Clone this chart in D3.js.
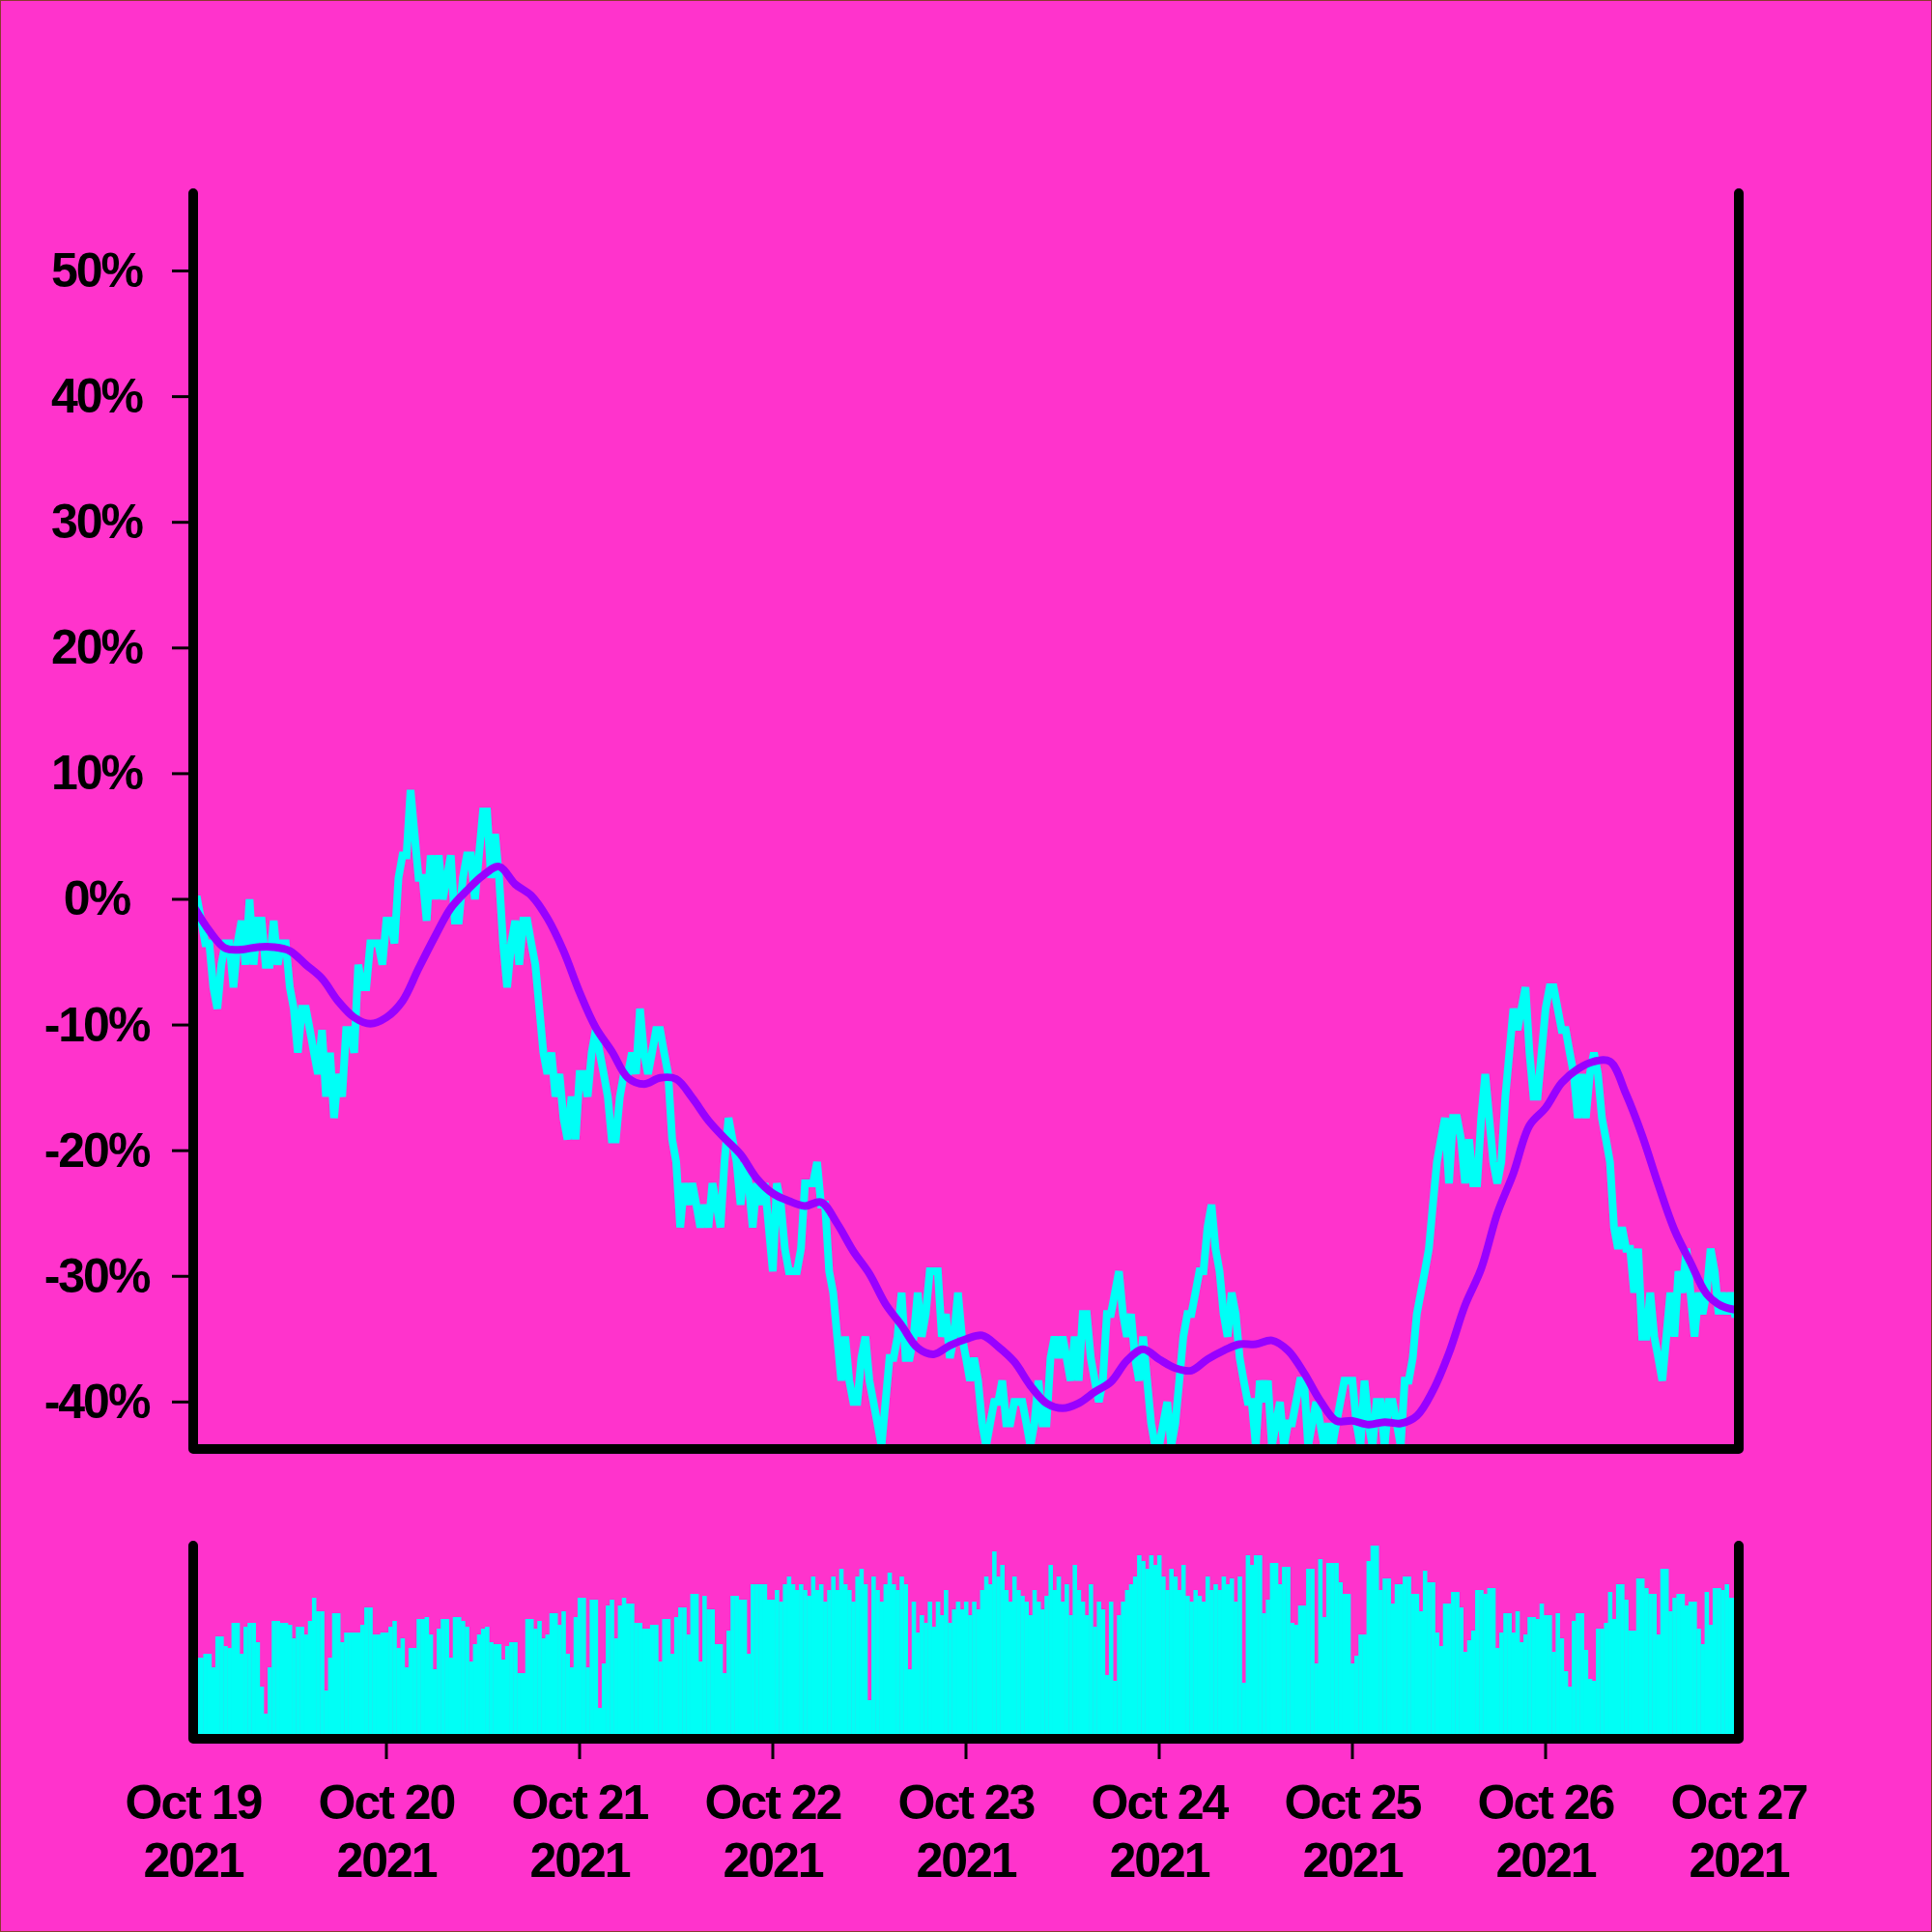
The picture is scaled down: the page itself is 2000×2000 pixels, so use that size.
<!DOCTYPE html>
<html><head><meta charset="utf-8">
<script src="https://cdn.jsdelivr.net/npm/d3@7"></script>
<style>html,body{margin:0;padding:0;background:#ff33cc;} svg{display:block;}</style>
</head><body>
<svg id="chart" width="2000" height="2000"></svg>
<script>
// ---------- DATA ----------
const startTime = "2021-10-19T00:00:00Z";
const endTime = "2021-10-27T00:00:00Z";
const pointStepMinutes = 30;     // one point every 30 minutes
const maStepPoints = 4;          // moving average read every 4 points (2 h)
const dateTicks = ["2021-10-19","2021-10-20","2021-10-21","2021-10-22","2021-10-23","2021-10-24","2021-10-25","2021-10-26","2021-10-27"];
const dateLabelsTop = ["Oct 19","Oct 20","Oct 21","Oct 22","Oct 23","Oct 24","Oct 25","Oct 26","Oct 27"];
const dateLabelsBottom = ["2021","2021","2021","2021","2021","2021","2021","2021","2021"];
const yTicks = [-40,-30,-20,-10,0,10,20,30,40,50];
const yTickLabels = ["-40%","-30%","-20%","-10%","0%","10%","20%","30%","40%","50%"];

// price change, % (30-minute points)
const priceChange = [
0,0,-1.7,-3.5,-3.5,-7.0,-8.7,-5.2,-3.5,-3.5,
-7.0,-3.5,-1.7,-5.2,0,-5.2,-1.7,-1.7,-5.2,-5.2,
-1.7,-5.2,-3.5,-3.5,-7.0,-8.7,-12.2,-8.7,-8.7,-10.4,
-12.2,-13.9,-10.4,-15.7,-12.2,-17.4,-13.9,-15.7,-10.4,-10.4,
-12.2,-5.2,-7.0,-7.0,-3.5,-3.5,-3.5,-5.2,-1.7,-1.7,
-3.5,1.7,3.5,3.5,8.7,5.2,1.7,1.7,-1.7,3.5,
0,3.5,0,1.7,3.5,-1.7,-1.7,1.7,3.5,3.5,
0,3.5,7.0,7.0,1.7,5.2,1.7,-3.5,-7.0,-3.5,
-1.7,-5.2,-1.7,-1.7,-3.5,-5.2,-8.7,-12.2,-13.9,-12.2,
-15.7,-13.9,-17.4,-19.1,-15.7,-19.1,-13.9,-13.9,-15.7,-12.2,
-10.4,-12.2,-13.9,-15.7,-19.1,-19.1,-15.7,-13.9,-13.9,-12.2,
-13.9,-8.7,-12.2,-13.9,-12.2,-10.4,-10.4,-12.2,-13.9,-19.1,
-20.9,-26.1,-22.6,-24.3,-22.6,-24.3,-26.1,-24.3,-26.1,-22.6,
-24.3,-26.1,-20.9,-17.4,-19.1,-20.9,-24.3,-20.9,-22.6,-26.1,
-22.6,-24.3,-22.6,-26.1,-29.6,-22.6,-24.3,-27.8,-29.6,-29.6,
-29.6,-27.8,-22.6,-22.6,-22.6,-20.9,-24.3,-24.3,-29.6,-31.3,
-34.8,-38.3,-34.8,-38.3,-40.0,-40.0,-36.5,-34.8,-38.3,-40.0,
-41.7,-43.5,-40.0,-36.5,-36.5,-34.8,-31.3,-36.5,-36.5,-34.8,
-31.3,-34.8,-33.0,-29.6,-29.6,-29.6,-34.8,-33.0,-36.5,-34.8,
-31.3,-34.8,-36.5,-38.3,-36.5,-38.3,-41.7,-43.5,-41.7,-40.0,
-40.0,-38.3,-41.7,-41.7,-40.0,-40.0,-40.0,-41.7,-43.5,-41.7,
-38.3,-41.7,-41.7,-36.5,-34.8,-36.5,-34.8,-36.5,-38.3,-34.8,
-38.3,-33.0,-33.0,-36.5,-38.3,-40.0,-38.3,-33.0,-33.0,-31.3,
-29.6,-33.0,-34.8,-33.0,-36.5,-38.3,-34.8,-38.3,-41.7,-43.5,
-43.5,-41.7,-40.0,-43.5,-41.7,-38.3,-34.8,-33.0,-33.0,-31.3,
-29.6,-29.6,-26.1,-24.3,-27.8,-29.6,-33.0,-34.8,-31.3,-33.0,
-36.5,-38.3,-40.0,-40.0,-43.5,-38.3,-40.0,-38.3,-43.5,-41.7,
-40.0,-43.5,-41.7,-41.7,-40.0,-38.3,-38.3,-43.5,-41.7,-40.0,
-41.7,-43.5,-41.7,-43.5,-41.7,-40.0,-38.3,-38.3,-38.3,-41.7,
-43.5,-38.3,-41.7,-43.5,-40.0,-40.0,-43.5,-40.0,-40.0,-41.7,
-43.5,-38.3,-38.3,-36.5,-33.0,-31.3,-29.6,-27.8,-24.3,-20.9,
-19.1,-17.4,-22.6,-17.4,-17.4,-19.1,-22.6,-19.1,-22.6,-22.6,
-17.4,-13.9,-17.4,-20.9,-22.6,-20.9,-15.7,-12.2,-8.7,-10.4,
-8.7,-7.0,-12.2,-15.7,-15.7,-12.2,-8.7,-7.0,-7.0,-8.7,
-10.4,-10.4,-12.2,-13.9,-17.4,-13.9,-17.4,-13.9,-12.2,-13.9,
-17.4,-19.1,-20.9,-26.1,-27.8,-26.1,-27.8,-27.8,-31.3,-27.8,
-34.8,-34.8,-31.3,-34.8,-36.5,-38.3,-34.8,-31.3,-34.8,-29.6,
-31.3,-27.8,-31.3,-34.8,-31.3,-33.0,-31.3,-27.8,-29.6,-33.0,
-31.3,-33.0,-31.3,-33.0,-33.0
];

// volume (relative units, 30-minute bars)
const volume = [
42,42,42,44,44,37,53,53,48,47,
60,60,44,58,60,60,50,27,13,37,
61,61,60,60,59,52,58,58,54,61,
73,66,66,25,42,65,65,50,55,55,
55,55,59,68,68,54,54,55,55,58,
61,47,52,37,47,47,62,62,63,54,
36,57,62,62,42,63,63,61,58,40,
49,54,57,58,50,49,49,41,48,50,
50,34,34,62,62,57,61,52,54,65,
65,59,66,44,37,63,73,73,37,72,
72,16,39,69,72,52,69,73,70,70,
60,60,57,57,59,59,40,62,62,44,
63,68,68,54,75,75,40,74,67,67,
49,49,34,56,74,74,72,72,44,80,
80,80,80,72,72,77,71,80,84,80,
77,80,77,74,84,77,80,71,77,84,
77,88,80,77,71,84,88,80,20,84,
77,71,80,86,80,77,84,80,36,71,
55,64,60,71,58,71,64,77,60,67,
71,67,71,64,71,67,77,84,80,97,
84,90,77,71,84,77,74,71,64,77,
71,67,74,90,77,84,71,80,64,90,
77,71,64,80,58,71,67,33,71,30,
64,71,77,80,84,95,92,88,95,90,
95,84,77,88,84,77,90,74,71,77,
74,71,84,77,80,77,84,80,83,71,
84,29,95,90,95,95,65,72,91,91,
80,89,89,60,59,69,69,88,88,39,
93,63,91,91,91,81,75,75,39,43,
54,54,92,100,100,77,83,83,70,80,
80,84,84,75,75,66,87,81,81,55,
48,70,70,76,76,68,45,51,56,77,
77,75,78,78,47,55,65,65,55,66,
50,54,63,63,62,70,64,64,45,65,
52,35,27,61,65,65,46,31,30,57,
57,60,76,62,80,80,72,56,56,83,
83,78,75,75,54,88,88,66,73,75,
75,69,71,71,57,49,76,59,78,78,
77,80,73,73,73
];

// moving average, % (read every 2 hours)
const maChange = [
-0.5,-2.5,-3.9,-4.0,-3.8,-3.8,-4.1,-5.2,-6.3,-8.1,
-9.4,-9.9,-9.4,-8.1,-5.5,-3.0,-0.7,0.7,1.9,2.6,
1.2,0.3,-1.5,-4.1,-7.4,-10.2,-12.1,-14.2,-14.7,-14.2,
-14.3,-15.8,-17.6,-19.0,-20.3,-22.2,-23.4,-24.0,-24.4,-24.1,
-25.8,-28.0,-29.8,-32.2,-33.9,-35.7,-36.2,-35.5,-35.0,-34.7,
-35.6,-36.8,-38.7,-40.1,-40.5,-40.1,-39.2,-38.4,-36.7,-35.8,
-36.6,-37.3,-37.5,-36.6,-35.9,-35.4,-35.4,-35.1,-35.9,-37.7,
-39.9,-41.5,-41.5,-41.8,-41.6,-41.7,-41.1,-39.1,-36.1,-32.3,
-29.4,-25.0,-21.8,-18.0,-16.6,-14.6,-13.5,-12.9,-12.9,-15.5,
-18.8,-22.7,-26.3,-28.9,-31.4,-32.4,-32.7
];

// ---------- CHART ----------
const BG = "#ff33cc", CYAN = "#00fff6", PURPLE = "#9900ff", INK = "#000";
const svg = d3.select("#chart");
const t0 = new Date(startTime), t1 = new Date(endTime);
const stepMs = pointStepMinutes * 60000;
const timeAt = i => new Date(t0.getTime() + i * stepMs);

const x = d3.scaleUtc().domain([t0, t1]).range([200, 1800]);
const y = d3.scaleLinear().domain([-43.74, 56.19]).range([1500, 200]);
const yv = d3.scaleLinear().domain([0, 100]).range([1800, 1600]);

svg.append("rect").attr("width", 2000).attr("height", 2000).attr("fill", BG);

const defs = svg.append("defs");
defs.append("clipPath").attr("id", "clipMain").append("rect")
  .attr("x", 200).attr("y", 200).attr("width", 1600).attr("height", 1300);
defs.append("clipPath").attr("id", "clipVol").append("rect")
  .attr("x", 200).attr("y", 1600).attr("width", 1600).attr("height", 200);

// volume bars
const bw = x(timeAt(1)) - x(timeAt(0));
svg.append("g").attr("clip-path", "url(#clipVol)")
  .selectAll("rect").data(volume).join("rect")
  .attr("x", (d, i) => x(timeAt(i)) - bw / 2)
  .attr("width", bw + 0.4)
  .attr("y", d => yv(d))
  .attr("height", d => yv(0) - yv(d))
  .attr("fill", CYAN);

// price line
const gMain = svg.append("g").attr("clip-path", "url(#clipMain)");
gMain.append("path")
  .datum(priceChange)
  .attr("fill", "none").attr("stroke", CYAN).attr("stroke-width", 8)
  .attr("d", d3.line().x((d, i) => x(timeAt(i))).y(d => y(d)));

// moving average line
gMain.append("path")
  .datum(maChange)
  .attr("fill", "none").attr("stroke", PURPLE).attr("stroke-width", 8)
  .attr("stroke-linejoin", "round").attr("stroke-linecap", "round")
  .attr("d", d3.line().curve(d3.curveCatmullRom)
    .x((d, i) => x(timeAt(i * maStepPoints))).y(d => y(d)));

// frames
const frame = (top, bottom) => `M${x(t0)},${top}V${bottom}H${x(t1)}V${top}`;
svg.append("path").attr("d", frame(200, y(-43.74)))
  .attr("fill", "none").attr("stroke", INK).attr("stroke-width", 10)
  .attr("stroke-linecap", "round").attr("stroke-linejoin", "round");
svg.append("path").attr("d", frame(yv(100), yv(0)))
  .attr("fill", "none").attr("stroke", INK).attr("stroke-width", 10)
  .attr("stroke-linecap", "round").attr("stroke-linejoin", "round");

const FONT = "'Liberation Sans', Arial, Helvetica, sans-serif";

// y ticks
const gy = svg.append("g");
gy.selectAll("line").data(yTicks).join("line")
  .attr("x1", 178).attr("x2", 200)
  .attr("y1", d => y(d)).attr("y2", d => y(d))
  .attr("stroke", INK).attr("stroke-width", 3);
gy.selectAll("text").data(yTicks).join("text")
  .attr("x", 100).attr("y", d => y(d)).attr("dy", "0.33em")
  .attr("text-anchor", "middle")
  .style("font-family", FONT).style("font-weight", "bold")
  .style("font-size", "50px").style("letter-spacing", "-2px")
  .attr("fill", INK)
  .text((d, i) => yTickLabels[i]);

// x ticks
const dates = dateTicks.map(s => new Date(s + "T00:00:00Z"));
const gx = svg.append("g");
gx.selectAll("line").data(dates.slice(1, -1)).join("line")
  .attr("x1", d => x(d)).attr("x2", d => x(d))
  .attr("y1", 1800).attr("y2", 1821)
  .attr("stroke", INK).attr("stroke-width", 3);
const lbl = gx.selectAll("text").data(dates).join("text")
  .attr("text-anchor", "middle")
  .style("font-family", FONT).style("font-weight", "bold")
  .style("font-size", "50px").style("letter-spacing", "-2px")
  .attr("fill", INK);
lbl.append("tspan").attr("x", d => x(d)).attr("y", 1883).text((d, i) => dateLabelsTop[i]);
lbl.append("tspan").attr("x", d => x(d)).attr("y", 1943).text((d, i) => dateLabelsBottom[i]);

// outer border
svg.append("rect").attr("x", 0.5).attr("y", 0.5).attr("width", 1999).attr("height", 1999)
  .attr("fill", "none").attr("stroke", "#8a3a30").attr("stroke-width", 1);
</script>
</body></html>
